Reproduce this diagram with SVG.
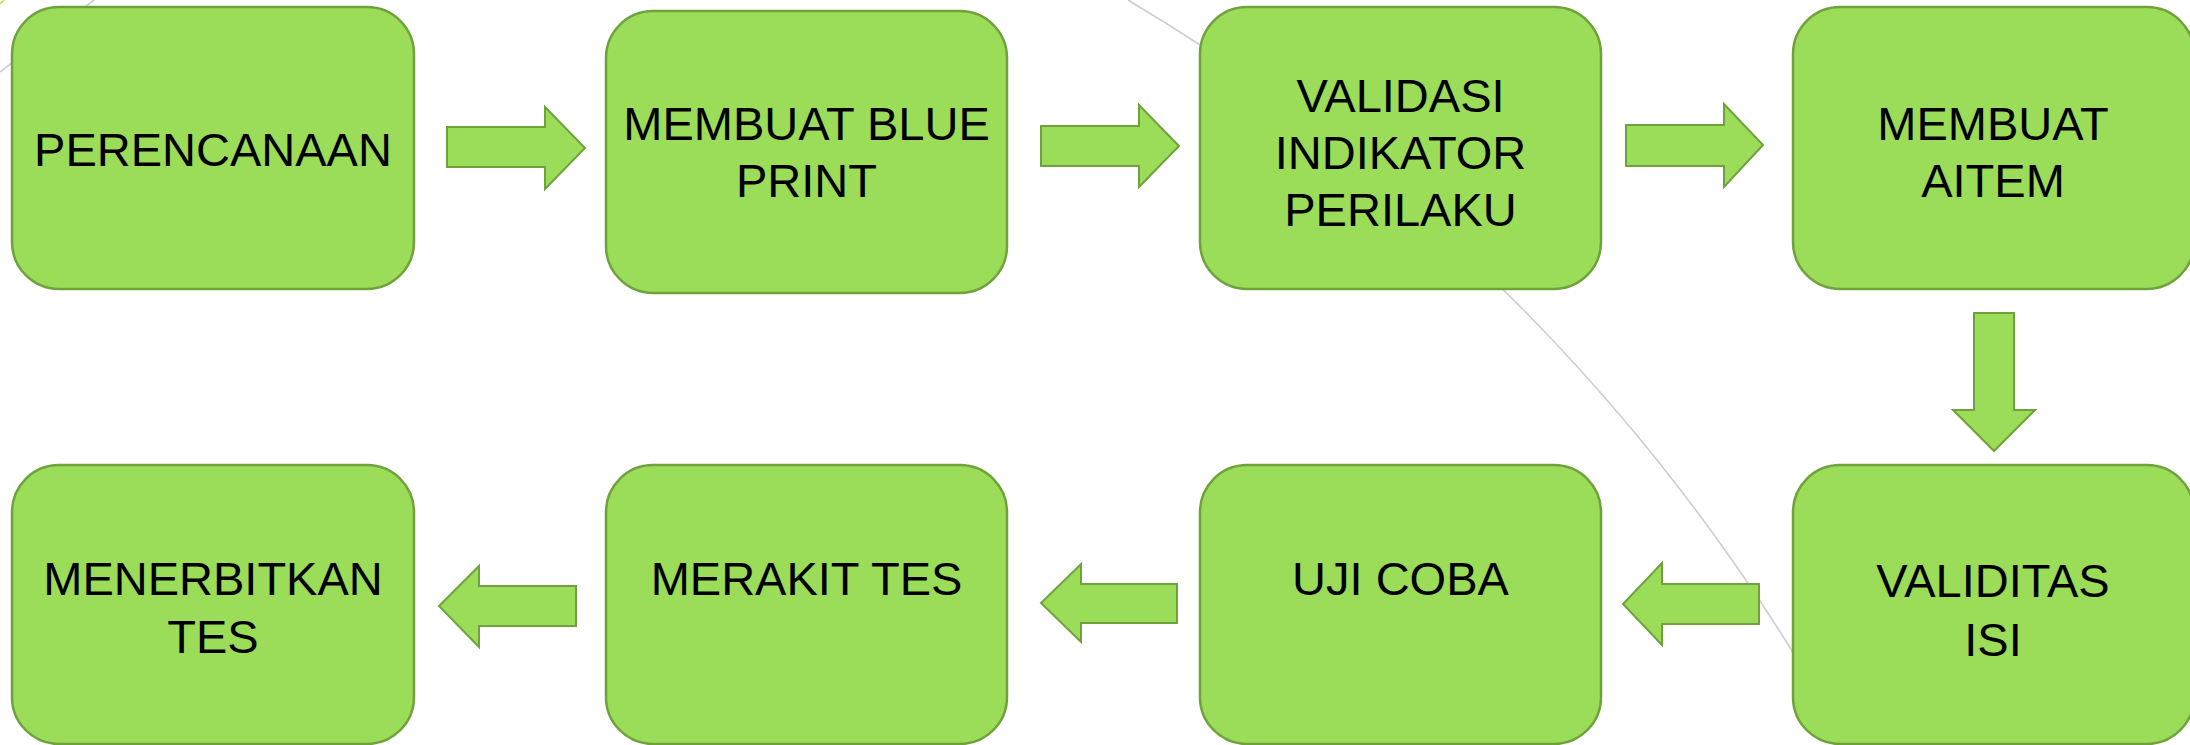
<svg xmlns="http://www.w3.org/2000/svg" width="2190" height="745" viewBox="0 0 2190 745">
<style>
.bg{fill:none;stroke:#cdcdcd;stroke-width:1.6}
.box{fill:#9bdc58;stroke:#6fa23c;stroke-width:2.5}
.arr{fill:#9bdc58;stroke:#6fa23c;stroke-width:2;stroke-linejoin:miter}
.t{font-family:"Liberation Sans",Arial,sans-serif;font-size:47px;fill:#000;text-anchor:middle}
</style>
<rect width="2190" height="745" fill="#ffffff"/>
<g id="background">
<path class="bg" d="M0,72 L94,0"/>
<path d="M0,4 L4,0" stroke="#b8e05a" stroke-width="1.6" fill="none"/>
<path class="bg" d="M1128,0 A1964,1964 0 0 1 1847,745"/>
</g>
<g id="connectors">
<polygon class="arr" points="447,127 545,127 545,107 585,148 545,189 545,167 447,167"/>
<polygon class="arr" points="1041,126 1139,126 1139,105 1179,146 1139,187 1139,166 1041,166"/>
<polygon class="arr" points="1626,125 1724,125 1724,104 1763,145 1724,187 1724,166 1626,166"/>
<polygon class="arr" points="1974,313 2014,313 2014,410 2035,410 1994,451 1953,410 1974,410"/>
<polygon class="arr" points="1759,584 1662,584 1662,563 1623,604 1662,645 1662,624 1759,624"/>
<polygon class="arr" points="1177,584 1081,584 1081,564 1041,603 1081,642 1081,623 1177,623"/>
<polygon class="arr" points="576,586 479,586 479,566 439,606 479,647 479,626 576,626"/>
</g>
<g id="perencanaan">
<rect class="box" x="12" y="7" width="402" height="282" rx="47" ry="47"/>
<text class="t" x="213" y="166">PERENCANAAN</text>
</g>
<g id="membuat-blue-print">
<rect class="box" x="606" y="11" width="401" height="282" rx="47" ry="47"/>
<text class="t" x="806.5" y="140">MEMBUAT BLUE</text>
<text class="t" x="806.5" y="197">PRINT</text>
</g>
<g id="validasi-indikator-perilaku">
<rect class="box" x="1200" y="7" width="401" height="282" rx="47" ry="47"/>
<text class="t" x="1400.5" y="112">VALIDASI</text>
<text class="t" x="1400.5" y="169">INDIKATOR</text>
<text class="t" x="1400.5" y="226">PERILAKU</text>
</g>
<g id="membuat-aitem">
<rect class="box" x="1793" y="7" width="401" height="282" rx="47" ry="47"/>
<text class="t" x="1993" y="140">MEMBUAT</text>
<text class="t" x="1993" y="197">AITEM</text>
</g>
<g id="validitas-isi">
<rect class="box" x="1793" y="465" width="401" height="279" rx="47" ry="47"/>
<text class="t" x="1993" y="597">VALIDITAS</text>
<text class="t" x="1993" y="656">ISI</text>
</g>
<g id="uji-coba">
<rect class="box" x="1200" y="465" width="401" height="279" rx="47" ry="47"/>
<text class="t" x="1400.5" y="595">UJI COBA</text>
</g>
<g id="merakit-tes">
<rect class="box" x="606" y="465" width="401" height="279" rx="47" ry="47"/>
<text class="t" x="806.5" y="595">MERAKIT TES</text>
</g>
<g id="menerbitkan-tes">
<rect class="box" x="12" y="465" width="402" height="279" rx="47" ry="47"/>
<text class="t" x="213" y="595">MENERBITKAN</text>
<text class="t" x="213" y="653">TES</text>
</g>
</svg>
